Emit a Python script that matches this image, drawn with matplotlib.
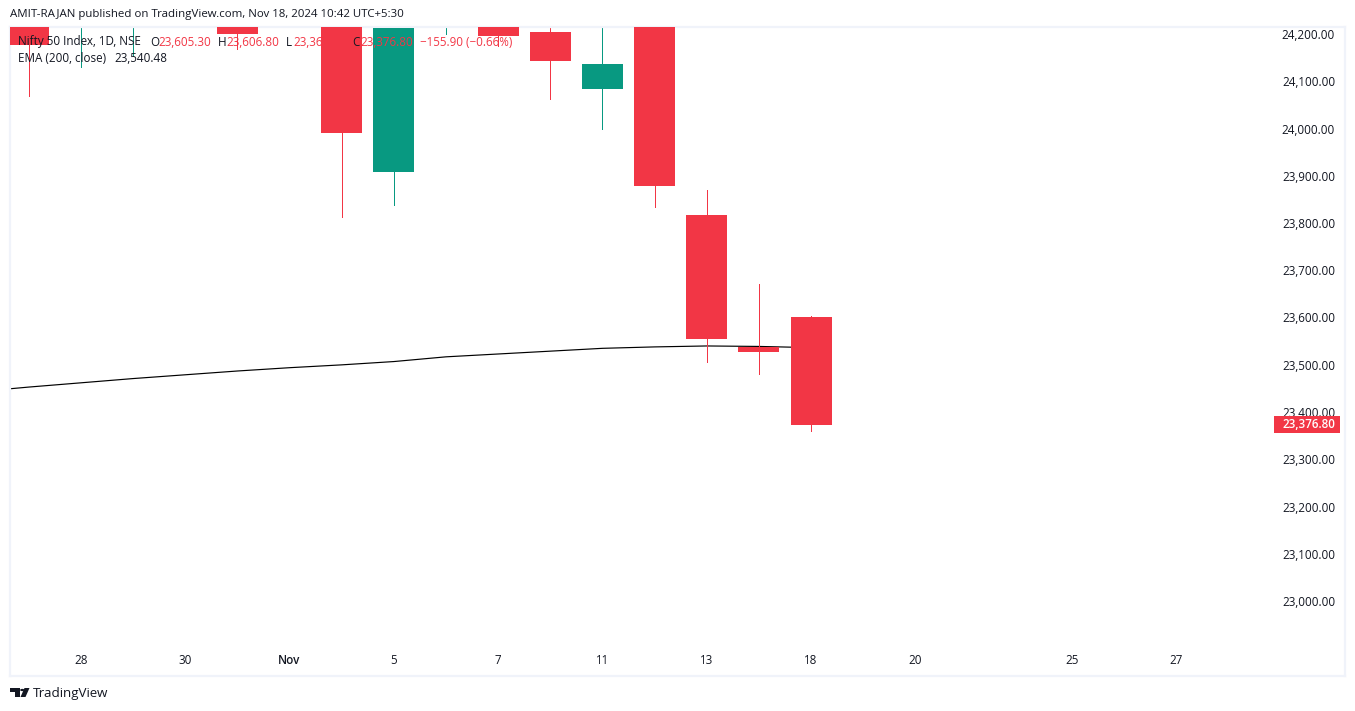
from matplotlib import pyplot as plt, patches
from matplotlib.transforms import ScaledTranslation
import numpy as np

W, H = 1355, 711
plt.rcParams['font.family'] = 'Open Sans'

# Daily candles, Oct 25 to Nov 18 (parts above the top edge are estimates)
dates = ['Oct 25', 'Oct 28', 'Oct 29', 'Oct 30', 'Oct 31', 'Nov 1', 'Nov 4', 'Nov 5',
         'Nov 6', 'Nov 7', 'Nov 8', 'Nov 11', 'Nov 12', 'Nov 13', 'Nov 14', 'Nov 18']
opens = [24399, 24251, 24328, 24371, 24349, 24302, 24315, 23912,
         24308, 24489, 24209, 24087, 24225, 23822, 23542, 23605.3]
highs = [24440, 24492, 24484, 24498, 24372, 24368, 24316, 24229,
         24537, 24503, 24249, 24336, 24242, 23875, 23675, 23606.8]
lows = [24073, 24135, 24158, 24307, 24172, 24280, 23816, 23842,
        24204, 24179, 24066, 24004, 23839, 23509, 23484, 23365]
closes = [24180, 24339, 24466, 24340, 24205, 24304, 23995, 24216,
          24484, 24199, 24148, 24141, 23883, 23559, 23532, 23376.8]

# EMA starts one session before the first candle so it reaches the left edge
ema = [23447, 23457, 23466, 23475, 23483, 23491, 23498, 23504, 23511,
       23521, 23527, 23533, 23539, 23542, 23544, 23543, 23540.48]

price_ticks = [23000, 23100, 23200, 23300, 23400, 23500, 23600,
               23700, 23800, 23900, 24000, 24100, 24200]
date_tick_pos = [1, 3, 5, 7, 9, 11, 13, 15, 17, 20, 22]
date_tick_labels = ['28', '30', 'Nov', '5', '7', '11', '13', '18', '20', '25', '27']

RED = '#f23645'
GREEN = '#089981'
DARK = '#131722'
FRAME = '#f0f3fa'

# Pixel scales of the chart
left, right, top, bottom = 10, 1345, 27, 676
x0, slot = 28.8, 52.15
y0, per_point = 603, 0.4725


def fx(x):
    return x / W


def fy(y):
    return 1 - y / H


fig = plt.figure(figsize=(W / 100, H / 100), dpi=100)
ax = fig.add_axes([fx(left), fy(bottom), (right - left) / W, (bottom - top) / H])
ax.set_xlim((left - x0) / slot, (right - x0) / slot)
ax.set_ylim(23000 + (y0 - bottom) / per_point, 23000 + (y0 - top) / per_point)

for s in ax.spines.values():
    s.set_color(FRAME)
    s.set_linewidth(1.6)

# EMA line under the candles
ax.plot(np.arange(len(ema)) - 1, ema, color='black', lw=0.85, zorder=1)

# Candles
idx = np.arange(len(dates))
o = np.array(opens)
c = np.array(closes)
colors = [GREEN if a > b else RED for a, b in zip(c, o)]
ax.vlines(idx, lows, highs, colors=colors, lw=0.72, zorder=2, antialiased=False)
ax.bar(idx, np.abs(c - o), bottom=np.minimum(o, c), width=0.786, color=colors, lw=0, zorder=3)

ax.set_xticks(date_tick_pos)
ax.set_xticklabels(date_tick_labels, fontsize=8.4, color=DARK)
ax.tick_params(axis='x', length=0, pad=-16)
ax.get_xticklabels()[2].set_fontweight('semibold')

ax.yaxis.tick_right()
ax.set_yticks(price_ticks)
ax.set_yticklabels([f'{v:,.2f}' for v in price_ticks], fontsize=8.4, color=DARK, ha='right')
ax.tick_params(axis='y', length=0, pad=-10)
up_2px = ScaledTranslation(4 / 100, 2 / 100, fig.dpi_scale_trans)
for lab in ax.get_yticklabels():
    lab.set_transform(lab.get_transform() + up_2px)

# Last price tag
fig.add_artist(patches.Rectangle((fx(1274), fy(433)), 66 / W, 17 / H, transform=fig.transFigure,
                                 facecolor=RED, edgecolor='none', zorder=4))
fig.text(fx(1335), fy(424), f'{closes[-1]:,.2f}', color='white', fontsize=8.4,
         ha='right', va='center', zorder=5, fontweight='semibold')

# Header and legend text
fig.text(fx(10), fy(15), 'AMIT-RAJAN published on TradingView.com, Nov 18, 2024 10:42 UTC+5:30',
         fontsize=8.28, color=DARK, va='center')

legend_parts = [
    (18, 'Nifty 50 Index, 1D, NSE', DARK), (150, 'O', DARK), (158, '23,605.30', RED),
    (218, 'H', DARK), (226, '23,606.80', RED), (286, 'L', DARK), (293, '23,365.00', RED),
    (352, 'C', DARK), (360, '23,376.80', RED), (420, '\u2212155.90 (\u22120.66%)', RED),
]
for x, txt, col in legend_parts:
    fig.text(fx(x), fy(42), txt, fontsize=8.4, color=col, va='center', zorder=6)
fig.text(fx(18), fy(59), 'EMA (200, close)', fontsize=8.4, color=DARK, va='center', zorder=6)
fig.text(fx(114), fy(59), f'{ema[-1]:,.2f}', fontsize=8.4, color=DARK, va='center', zorder=6)

# TradingView logo and wordmark
logo = [
    patches.Polygon([(fx(10), fy(688)), (fx(20), fy(688)), (fx(20), fy(697)), (fx(15), fy(697)),
                     (fx(15), fy(692)), (fx(10), fy(692))]),
    patches.Circle((fx(22.3), fy(690)), 0.0016),
    patches.Polygon([(fx(24.5), fy(688)), (fx(29.5), fy(688)), (fx(25.5), fy(697)), (fx(20.5), fy(697))]),
]
for p in logo:
    p.set(transform=fig.transFigure, facecolor=DARK, edgecolor='none')
    fig.add_artist(p)
fig.text(fx(33), fy(693), 'TradingView', fontsize=9.6, color=DARK, va='center')

fig.savefig('out.png', dpi=100)
